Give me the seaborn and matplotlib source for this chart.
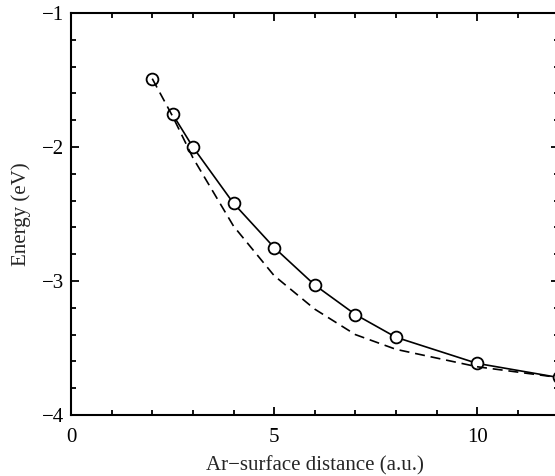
import matplotlib
matplotlib.use("Agg")
import matplotlib.pyplot as plt
from matplotlib.ticker import MultipleLocator
import seaborn as sns
import pandas as pd

# Data
distance = [2, 2.5, 3, 4, 5, 6, 7, 8, 10, 12]
energy_circles = [-1.49, -1.755, -2.00, -2.42, -2.75, -3.03, -3.25, -3.42, -3.615, -3.72]
energy_dashed = [-1.49, -1.77, -2.08, -2.59, -2.96, -3.21, -3.40, -3.51, -3.64, -3.72]

x_label = "Ar\u2212surface distance (a.u.)"
y_label = "Energy (eV)"
x_ticks = [0, 5, 10]
y_ticks = [-4, -3, -2, -1]

sns.set_style("ticks")
plt.rcParams["font.family"] = ["Liberation Serif", "DejaVu Serif"]
plt.rcParams["axes.unicode_minus"] = True

df_c = pd.DataFrame({"x": distance, "y": energy_circles})
df_d = pd.DataFrame({"x": distance, "y": energy_dashed})

fig = plt.figure(figsize=(5.55, 4.76), dpi=100)
ax = fig.add_axes([71 / 555, 1 - 415 / 476, 487.5 / 555, 402 / 476])

sns.lineplot(data=df_c.iloc[1:], x="x", y="y", ax=ax, color="black", lw=1.2,
             sort=False, zorder=2)
sns.lineplot(data=df_c, x="x", y="y", ax=ax, color="none", lw=0, marker="o",
             markersize=8.5, markerfacecolor="white", markeredgecolor="black",
             markeredgewidth=1.3, sort=False, zorder=3)
sns.lineplot(data=df_d, x="x", y="y", ax=ax, color="black", lw=1.2,
             sort=False, zorder=4, dashes=False, linestyle=(0, (6, 3.5)))

ax.set_xlim(0, 12)
ax.set_ylim(-4, -1)
ax.set_xticks(x_ticks)
ax.set_yticks(y_ticks)
ax.set_xticklabels([str(t) for t in x_ticks])
ax.set_yticklabels(["\u2212%d" % abs(t) for t in y_ticks])
ax.xaxis.set_minor_locator(MultipleLocator(1))
ax.yaxis.set_minor_locator(MultipleLocator(0.2))
ax.tick_params(which="both", direction="in", top=True, right=True,
               width=1.3, colors="black", labelsize=15)
ax.tick_params(which="major", length=6, pad=5)
ax.tick_params(axis="x", which="major", pad=9)
ax.tick_params(which="minor", length=3.5)
for s in ax.spines.values():
    s.set_linewidth(1.5)
    s.set_color("black")
    s.set_visible(True)

ax.set_xlabel(x_label, fontsize=15, labelpad=7)
ax.set_ylabel(y_label, fontsize=15, labelpad=8)

fig.savefig("out.png", dpi=100)
